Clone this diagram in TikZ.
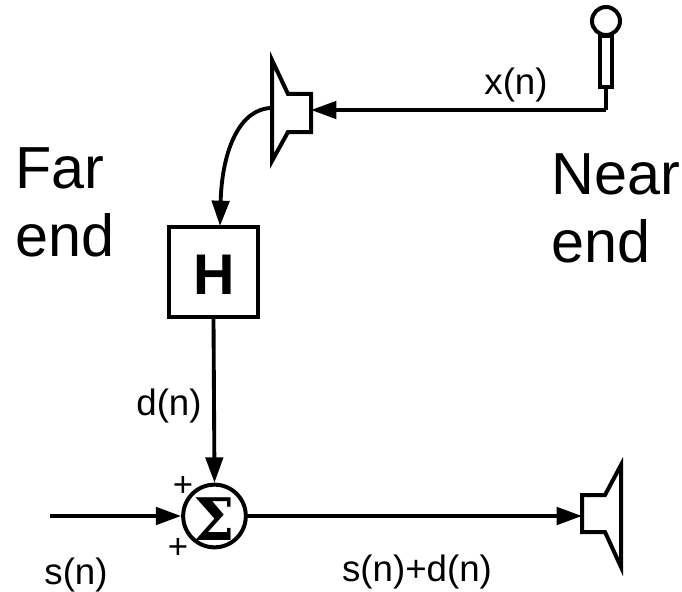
\documentclass[tikz,border=0pt]{standalone}
\usepackage{fontspec}
\setmainfont{Liberation Sans}
\usetikzlibrary{arrows.meta}
\tikzset{
  wire/.style={line width=2.9pt,draw=black},
  sig/.style={wire,-{Triangle[length=19pt,width=13pt]}},
  shapeline/.style={line width=3pt,draw=black,line join=miter},
  big/.style={font=\fontsize{44.5}{51.5}\selectfont,align=left,inner sep=0pt,anchor=north west},
  lab/.style={font=\fontsize{27.5}{30}\selectfont,inner sep=0pt},
  pm/.style={font=\fontsize{26}{28}\selectfont,inner sep=0pt},
}
\begin{document}
\begin{tikzpicture}[x=0.75pt,y=-0.75pt]
\useasboundingbox (0,0) rectangle (682,592);
% microphone
\node[draw,shapeline,circle,minimum size=21pt,inner sep=0pt] (mic) at (606,21) {};
\node[draw,shapeline,rectangle,minimum width=8.5pt,minimum height=38pt,inner sep=0pt,anchor=north] (handle) at (606,34) {};
\coordinate (micbase) at (606,110);
% far speaker
\draw[shapeline] (272,60) -- (272,161) -- (288,132) -- (311,132) -- (311,94) -- (288,94) -- cycle;
\coordinate (spk1in) at (311,110);
\coordinate (spk1out) at (272,108);
% near speaker
\draw[shapeline] (621,465) -- (621,567) -- (605,532) -- (582,532) -- (582,495) -- (605,495) -- cycle;
\coordinate (spk2in) at (582,516);
% H block
\node[draw,shapeline,rectangle,minimum width=67pt,minimum height=67pt,inner sep=0pt] (H) at (213.5,272) {};
\node[inner sep=0pt,font=\fontsize{43}{48}\selectfont\bfseries] (Hlabel) at (214,275) {H};
% summer
\node[draw,shapeline,circle,minimum size=47pt,inner sep=0pt] (sum) at (214.5,516) {};
\node[inner sep=0pt,font=\fontsize{44}{48}\selectfont] (sigma) at (214,519) {\fontspec{DejaVu Serif}\textbf{Σ}};
\coordinate (src) at (50,516);
% connectors
\draw[wire] (handle.south) -- (micbase);
\draw[sig] (micbase) -- (spk1in);
\draw[sig] (spk1out) .. controls (240,108) and (222,150) .. (220,226);
\draw[sig] (H.south) -- (sum.north);
\draw[sig] (src) -- (sum.west);
\draw[wire] (sum.east) -- (400,516);
\draw[sig] (400,516) -- (spk2in);
% labels
\node[lab] (xn) at (516,85) {x(n)};
\node[lab] (dn) at (169,406) {d(n)};
\node[lab] (sn) at (76,575) {s(n)};
\node[lab] (sdn) at (417,572) {s(n)+d(n)};
\node[pm] (p1) at (183,486) {+};
\node[pm] (p2) at (178,548) {+};
\node[big] (far) at (15,147) {Far\\end};
\node[big] (near) at (551,153) {Near\\end};
\end{tikzpicture}
\end{document}
